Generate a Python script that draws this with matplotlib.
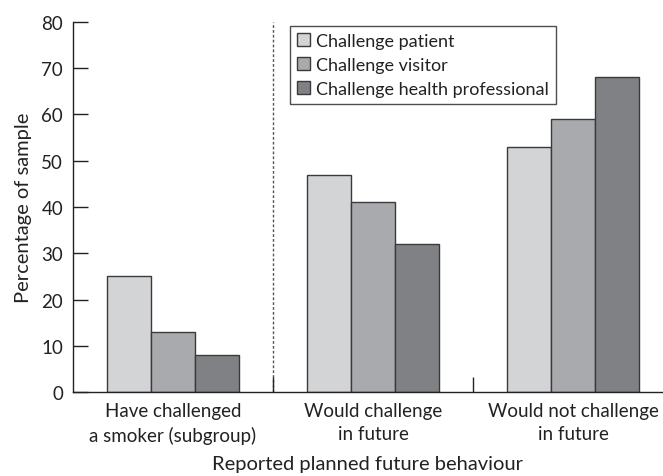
import matplotlib
matplotlib.use('Agg')
import matplotlib.pyplot as plt
import numpy as np

# Data
groups = ['Have challenged\na smoker (subgroup)', 'Would challenge\nin future',
          'Would not challenge\nin future']
series_names = ['Challenge patient', 'Challenge visitor', 'Challenge health professional']
patient = [25, 47, 53]
visitor = [13, 41, 59]
health_prof = [8, 32, 68]

colors = ['#d3d4d6', '#a9aaad', '#808184']
edge = '#3a3a3a'

plt.rcParams['font.family'] = ['Lato', 'DejaVu Sans']

fig = plt.figure(figsize=(6.63, 4.77), dpi=100)
ax = fig.add_axes([0.110, 0.176, 0.890, 0.776])

x = np.arange(len(groups))
w = 0.22
for i, (vals, name) in enumerate(zip([patient, visitor, health_prof], series_names)):
    ax.bar(x + (i - 1) * w, vals, width=w, color=colors[i], edgecolor=edge,
           linewidth=1.0, label=name)

# dotted divider after the first (subgroup) category
ax.plot([0.5, 0.5], [0, 80], color='#555555', linestyle=(0, (2, 1.5)),
        linewidth=1.0, zorder=1)

ax.set_xlim(-0.5, 2.45)
ax.set_ylim(0, 80)
ax.set_yticks(range(0, 81, 10))

ax.set_xticks(x)
ax.set_xticklabels(groups, fontsize=13.5, color='#222222', linespacing=1.45)
ax.tick_params(axis='x', which='major', length=0, pad=7)
ax.set_xticks([0.5, 1.5], minor=True)
ax.tick_params(axis='x', which='minor', direction='in', length=11, width=1,
               color='#222222')
ax.tick_params(axis='y', direction='in', length=11, width=1, pad=7,
               labelsize=13.5, color='#222222', labelcolor='#222222')

for side in ['top', 'right']:
    ax.spines[side].set_visible(False)
for side in ['left', 'bottom']:
    ax.spines[side].set_color('#222222')
    ax.spines[side].set_linewidth(1.0)

ax.set_ylabel('Percentage of sample', fontsize=14.5, color='#222222', labelpad=7)
ax.set_xlabel('Reported planned future behaviour', fontsize=14.5, color='#222222',
              labelpad=8)

leg = ax.legend(loc='upper left', bbox_to_anchor=(0.368, 0.99), borderaxespad=0,
                fontsize=13, frameon=True, fancybox=False, edgecolor='#222222',
                handlelength=0.7, handleheight=0.7, handletextpad=0.35,
                labelspacing=0.45, borderpad=0.4)
leg.get_frame().set_linewidth(1.0)
for t in leg.get_texts():
    t.set_color('#222222')

fig.savefig('out.png', dpi=100, facecolor='white')
